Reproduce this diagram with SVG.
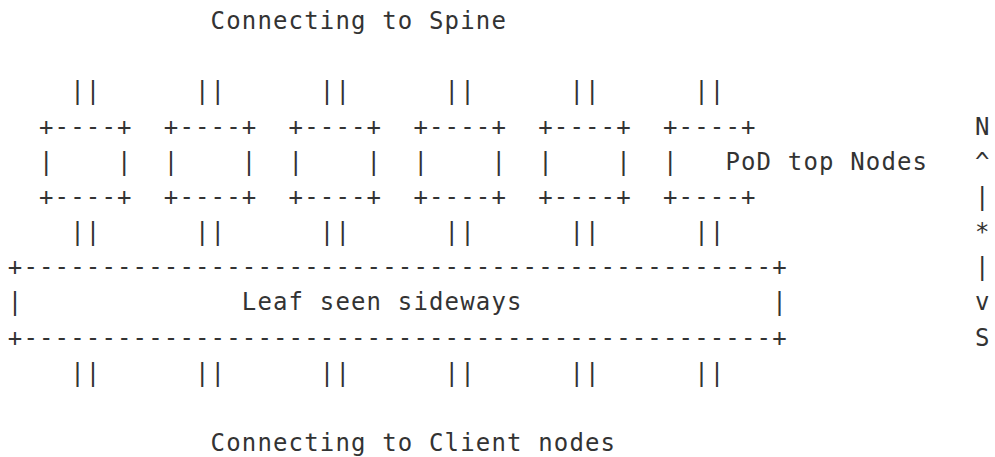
<svg xmlns="http://www.w3.org/2000/svg" width="995" height="457" viewBox="0 0 995 457">
  <style>
    .t { font-family: "DejaVu Sans Mono", "Liberation Mono", monospace; font-size: 24px; letter-spacing: 1.15px; fill: #333333; }
  </style>
  <rect width="995" height="457" fill="#ffffff"/>

  <!-- character grid: column c at x = 7.8 + 15.6*c, row r baseline at 29 + 35.17*r -->

  <g id="label-spine">
    <text class="t" x="210.6" y="29">Connecting to Spine</text>
  </g>

  <g id="connectors">
    <!-- uplinks to spine -->
    <text class="t" x="70.2" y="99.3">||</text>
    <text class="t" x="195" y="99.3">||</text>
    <text class="t" x="319.8" y="99.3">||</text>
    <text class="t" x="444.6" y="99.3">||</text>
    <text class="t" x="569.4" y="99.3">||</text>
    <text class="t" x="694.2" y="99.3">||</text>
    <!-- top nodes to leaf -->
    <text class="t" x="70.2" y="240">||</text>
    <text class="t" x="195" y="240">||</text>
    <text class="t" x="319.8" y="240">||</text>
    <text class="t" x="444.6" y="240">||</text>
    <text class="t" x="569.4" y="240">||</text>
    <text class="t" x="694.2" y="240">||</text>
    <!-- leaf to clients -->
    <text class="t" x="70.2" y="380.7">||</text>
    <text class="t" x="195" y="380.7">||</text>
    <text class="t" x="319.8" y="380.7">||</text>
    <text class="t" x="444.6" y="380.7">||</text>
    <text class="t" x="569.4" y="380.7">||</text>
    <text class="t" x="694.2" y="380.7">||</text>
  </g>

  <g id="top-node-1">
    <text class="t" x="39" y="134.5">+----+</text>
    <text class="t" x="39" y="169.7">|</text>
    <text class="t" x="117" y="169.7">|</text>
    <text class="t" x="39" y="204.9">+----+</text>
  </g>
  <g id="top-node-2">
    <text class="t" x="163.8" y="134.5">+----+</text>
    <text class="t" x="163.8" y="169.7">|</text>
    <text class="t" x="241.8" y="169.7">|</text>
    <text class="t" x="163.8" y="204.9">+----+</text>
  </g>
  <g id="top-node-3">
    <text class="t" x="288.6" y="134.5">+----+</text>
    <text class="t" x="288.6" y="169.7">|</text>
    <text class="t" x="366.6" y="169.7">|</text>
    <text class="t" x="288.6" y="204.9">+----+</text>
  </g>
  <g id="top-node-4">
    <text class="t" x="413.4" y="134.5">+----+</text>
    <text class="t" x="413.4" y="169.7">|</text>
    <text class="t" x="491.4" y="169.7">|</text>
    <text class="t" x="413.4" y="204.9">+----+</text>
  </g>
  <g id="top-node-5">
    <text class="t" x="538.2" y="134.5">+----+</text>
    <text class="t" x="538.2" y="169.7">|</text>
    <text class="t" x="616.2" y="169.7">|</text>
    <text class="t" x="538.2" y="204.9">+----+</text>
  </g>
  <g id="top-node-6">
    <text class="t" x="663" y="134.5">+----+</text>
    <text class="t" x="663" y="169.7">|</text>
    <text class="t" x="663" y="204.9">+----+</text>
    <text class="t" x="725.4" y="169.7">PoD top Nodes</text>
  </g>

  <g id="leaf">
    <text class="t" x="7.8" y="275.2">+------------------------------------------------+</text>
    <text class="t" x="7.8" y="310.4">|</text>
    <text class="t" x="241.8" y="310.4">Leaf seen sideways</text>
    <text class="t" x="772.2" y="310.4">|</text>
    <text class="t" x="7.8" y="345.5">+------------------------------------------------+</text>
  </g>

  <g id="axis-north-south">
    <text class="t" x="975" y="134.5">N</text>
    <text class="t" x="975" y="169.7">^</text>
    <text class="t" x="975" y="204.9">|</text>
    <text class="t" x="975" y="240">*</text>
    <text class="t" x="975" y="275.2">|</text>
    <text class="t" x="975" y="310.4">v</text>
    <text class="t" x="975" y="345.5">S</text>
  </g>

  <g id="label-clients">
    <text class="t" x="210.6" y="451">Connecting to Client nodes</text>
  </g>
</svg>
